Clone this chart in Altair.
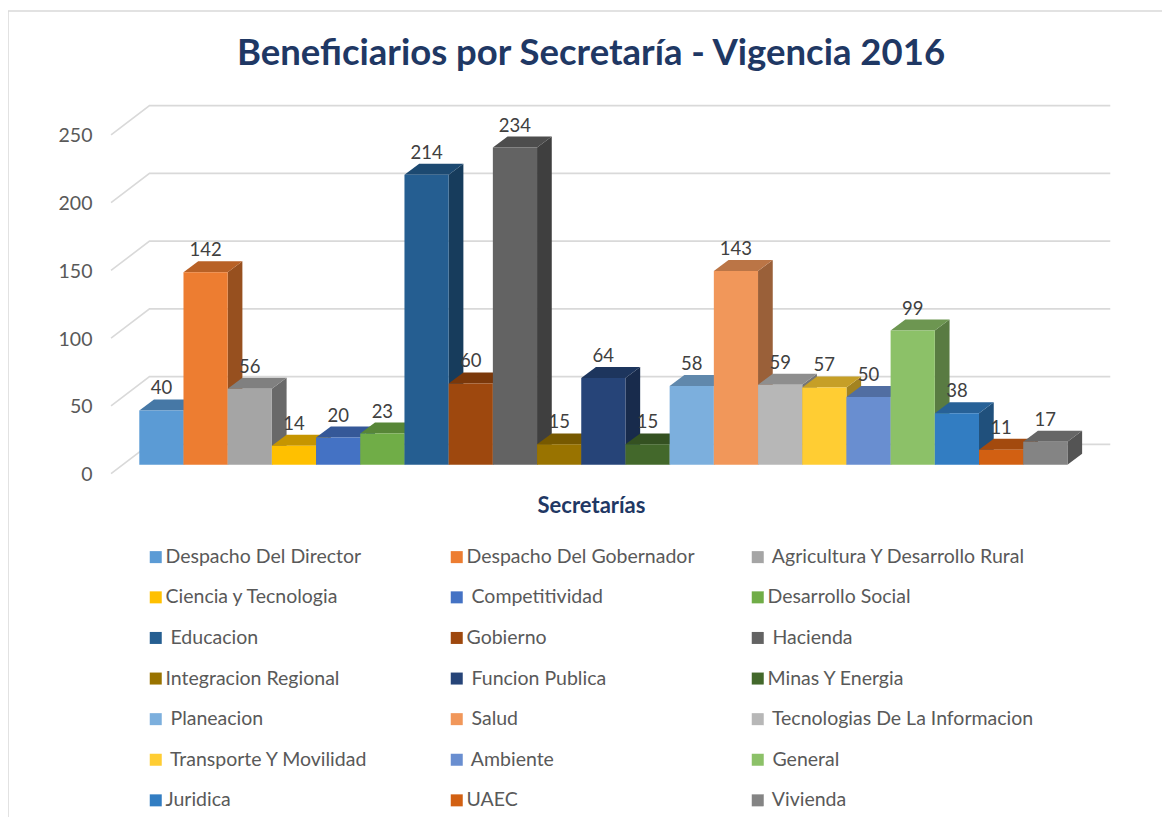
import altair as alt
import pandas as pd

PAD = "\u200b\u00a0"
names = ["Despacho Del Director", "Despacho Del Gobernador", PAD + "Agricultura Y Desarrollo Rural",
         "Ciencia y Tecnologia", PAD + "Competitividad", "Desarrollo Social",
         PAD + "Educacion", "Gobierno", PAD + "Hacienda",
         "Integracion Regional", PAD + "Funcion Publica", "Minas Y Energia",
         PAD + "Planeacion", PAD + "Salud", PAD + "Tecnologias De La Informacion",
         PAD + "Transporte Y Movilidad", PAD + "Ambiente", PAD + "General",
         "Juridica", "UAEC", PAD + "Vivienda"]
values = [40, 142, 56, 14, 20, 23, 214, 60, 234, 15, 64, 15, 58, 143, 59, 57, 50, 99, 38, 11, 17]
colors = ["#5b9bd5", "#ed7d31", "#a5a5a5", "#ffc000", "#4472c4", "#70ad47",
          "#255e91", "#9e480e", "#636363", "#997300", "#264478", "#43682b",
          "#7cafdd", "#f1975a", "#b7b7b7", "#ffcd33", "#698ed0", "#8cc168",
          "#327dc2", "#d26012", "#848484"]
grid_ticks = [0, 50, 100, 150, 200, 250]

# axis geometry in data units
X_DOMAIN = [-0.889, 22.19]
Y_DOMAIN = [-11.3, 272.8]
BAR_DX, BAR_DY = 0.333, 8.1     # depth of a bar
WALL_DX, WALL_DY = 0.87, 21.6   # depth of the floor/side wall
WALL_FRONT_Y = -6.64
WALL_RIGHT = 21.97


def shade(hex_color, k):
    r, g, b = (int(hex_color[i:i + 2], 16) for i in (1, 3, 5))
    return "#%02x%02x%02x" % (int(r * k), int(g * k), int(b * k))


fronts = pd.DataFrame({"name": names, "value": values,
                       "x0": range(21), "x1": [i + 1 for i in range(21)],
                       "xc": [i + 0.5 for i in range(21)]})

side_rows, top_rows, grid_rows = [], [], []
for i, (v, c) in enumerate(zip(values, colors)):
    side = shade(c, 0.64)
    top = shade(c, 0.78)
    side_rows += [{"i": i, "x": i + 1, "y": v, "y2": 0, "c": side},
                  {"i": i, "x": i + 1 + BAR_DX, "y": v + BAR_DY, "y2": BAR_DY, "c": side}]
    top_rows += [{"i": i, "y": v, "x": i, "x2": i + 1, "c": top},
                 {"i": i, "y": v + BAR_DY, "x": i + BAR_DX, "x2": i + 1 + BAR_DX, "c": top}]
for t in grid_ticks:
    base = t + WALL_FRONT_Y
    xl = X_DOMAIN[0] + 0.25
    grid_rows += [{"t": t, "k": 0, "x": xl, "y": base},
                  {"t": t, "k": 1, "x": xl + WALL_DX, "y": base + WALL_DY},
                  {"t": t, "k": 2, "x": WALL_RIGHT, "y": base + WALL_DY}]

xs = alt.Scale(domain=X_DOMAIN, nice=False, zero=False)
ys = alt.Scale(domain=Y_DOMAIN, nice=False, zero=False)
LABEL_FONT = "Lato"
xax = alt.Axis(title="Secretarías", labels=False, ticks=False, domain=False, grid=False,
               titleFont=LABEL_FONT, titleFontSize=22, titleFontWeight="bold",
               titleColor="#1f3864", titleX=491, titleY=15)
yax = alt.Axis(values=grid_ticks, title=None, ticks=False, domain=False, grid=False,
               labelFont=LABEL_FONT, labelFontSize=19.5, labelColor="#595959",
               labelPadding=8, labelOffset=10)

grid = alt.Chart(pd.DataFrame(grid_rows)).mark_line(color="#d9d9d9", strokeWidth=1.6, clip=False).encode(
    x=alt.X("x:Q", scale=xs, axis=xax),
    y=alt.Y("y:Q", scale=ys, axis=yax),
    detail="t:N", order="k:Q")

sides = alt.Chart(pd.DataFrame(side_rows)).mark_area(opacity=1).encode(
    x=alt.X("x:Q", scale=xs, axis=xax), y=alt.Y("y:Q", scale=ys, axis=yax), y2="y2:Q",
    detail="i:O", color=alt.Color("c:N", scale=None))

tops = alt.Chart(pd.DataFrame(top_rows)).mark_area(orient="horizontal", opacity=1).encode(
    y=alt.Y("y:Q", scale=ys, axis=yax), x=alt.X("x:Q", scale=xs, axis=xax), x2="x2:Q",
    detail="i:O", color=alt.Color("c:N", scale=None))

bars = alt.Chart(fronts).mark_rect().encode(
    x=alt.X("x0:Q", scale=xs, axis=xax), x2="x1:Q",
    y=alt.Y("value:Q", scale=ys, axis=yax), y2=alt.Y2(datum=0),
    color=alt.Color("name:N", sort=names,
                    scale=alt.Scale(domain=names, range=colors),
                    legend=alt.Legend(title=None, orient="none", legendX=46, legendY=452, direction="horizontal",
                                      columns=3, gridAlign="all", columnPadding=15, rowPadding=19.6, padding=0,
                                      symbolType="square", symbolSize=144, symbolStrokeWidth=0, symbolOpacity=1,
                                      labelFont=LABEL_FONT, labelFontSize=19.5, labelColor="#595959", labelLimit=400,
                                      labelOffset=0)))

labels = alt.Chart(fronts).mark_text(font=LABEL_FONT, fontSize=18.5, color="#404040", baseline="middle", dy=-22).encode(
    x=alt.X("xc:Q", scale=xs, axis=xax), y=alt.Y("value:Q", scale=ys, axis=yax), text="value:Q")

frame_top = alt.Chart(pd.DataFrame({"a": [0]})).mark_rule(color="#d9d9d9", strokeWidth=1.5, clip=False).encode(
    x=alt.value(-92), x2=alt.value(1062), y=alt.value(-84))
frame_left = alt.Chart(pd.DataFrame({"a": [0]})).mark_rule(color="#d9d9d9", strokeWidth=1.5, clip=False).encode(
    x=alt.value(-92), y=alt.value(-84), y2=alt.value(730))

chart = alt.layer(frame_top, frame_left, grid, sides, tops, bars, labels).resolve_scale(color="independent").properties(
    width=1020, height=385,
    padding={"left": 92, "top": 87, "right": 42, "bottom": 337},
    autosize=alt.AutoSizeParams(type="none"),
    background="white",
    title=alt.TitleParams("Beneficiarios por Secretaría - Vigencia 2016", font="Lato", fontSize=36.5, fontWeight="bold",
                          color="#1f3864", anchor="middle", dx=-19, offset=-62),
).configure_view(stroke=None)

chart.save("out.html", embed_options={"renderer": "svg", "actions": False})
